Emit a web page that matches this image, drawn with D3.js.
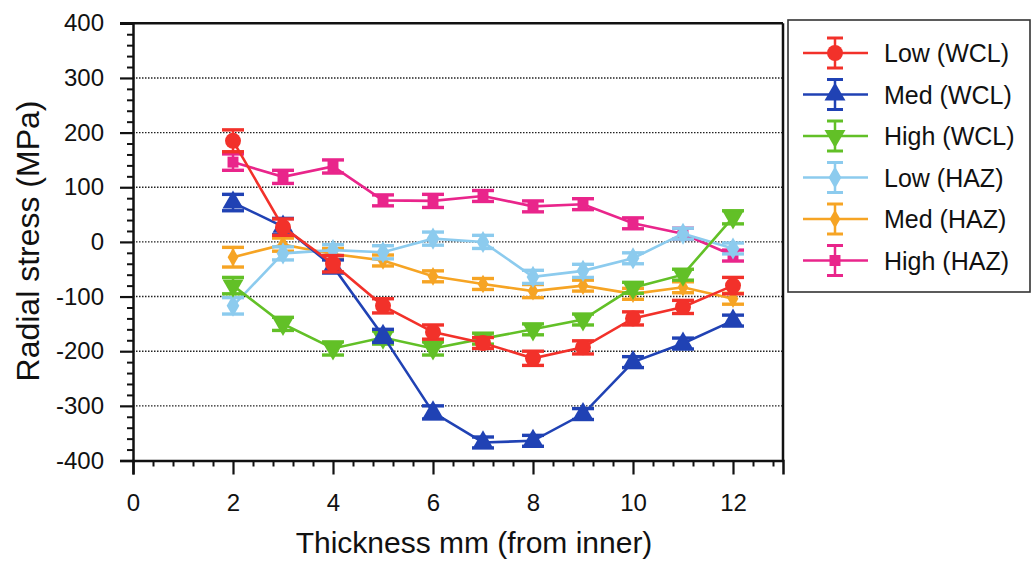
<!DOCTYPE html>
<html><head><meta charset="utf-8">
<script src="https://cdn.jsdelivr.net/npm/d3@7"></script>
<style>body{margin:0;background:#fff}svg{display:block}text{font-family:"Liberation Sans",Arial,sans-serif;fill:#111}</style>
</head><body>
<svg id="c" width="1033" height="562"></svg>
<script>
const thickness = [2,3,4,5,6,7,8,9,10,11,12];
const seriesNames = ["Low (WCL)","Med (WCL)","High (WCL)","Low (HAZ)","Med (HAZ)","High (HAZ)"];
const lowWCL  = [185, 27, -40, -117, -165, -185, -213, -193, -140, -119, -80];
const medWCL  = [72, 28, -45, -172, -312, -367, -364, -315, -220, -186, -144];
const highWCL = [-80, -150, -195, -175, -195, -177, -160, -142, -84, -60, 45];
const lowHAZ  = [-117, -21, -15, -19, 6, 0, -64, -53, -30, 15, -12];
const medHAZ  = [-28, -5, -22, -34, -63, -77, -90, -80, -95, -83, -104];
const highHAZ = [146, 119, 138, 76, 75, 84, 65, 69, 34, 15, -25];
const errLowWCL  = [20, 15, 15, 13, 13, 10, 13, 12, 12, 12, 15];
const errMedWCL  = [15, 15, 12, 12, 12, 10, 10, 10, 10, 10, 10];
const errHighWCL = [15, 12, 12, 12, 12, 10, 10, 10, 10, 10, 12];
const errLowHAZ  = [15, 12, 10, 12, 12, 12, 12, 12, 10, 10, 10];
const errMedHAZ  = [18, 12, 10, 10, 10, 10, 12, 10, 10, 10, 10];
const errHighHAZ = [15, 12, 12, 10, 12, 10, 10, 10, 10, 10, 10];
const xTicks = [0,2,4,6,8,10,12];
const yTicks = [-400,-300,-200,-100,0,100,200,300,400];
const gridValues = [-300,-200,-100,0,100,200,300];

const colors = ["#f2312a","#2042b4","#62c027","#8ccbee","#f6a424","#e9258b"];
const shapes = [
  {t:d3.symbolCircle, s:200, r:0},
  {t:d3.symbolTriangle, s:190, r:0},
  {t:d3.symbolTriangle, s:190, r:180},
  {t:d3.symbolDiamond, s:140, r:0},
  {t:d3.symbolDiamond, s:100, r:0},
  {t:d3.symbolSquare, s:120, r:0}
];
const values = [lowWCL, medWCL, highWCL, lowHAZ, medHAZ, highHAZ];
const errors = [errLowWCL, errMedWCL, errHighWCL, errLowHAZ, errMedHAZ, errHighHAZ];

const svg = d3.select("#c");
const x = d3.scaleLinear().domain([0,13]).range([133,783]);
const y = d3.scaleLinear().domain([-400,400]).range([460.5,23.3]);
const fmt = d => String(d);

// gridlines
svg.append("g").selectAll("line").data(gridValues).join("line")
  .attr("x1",x(0)).attr("x2",x(13)).attr("y1",d=>y(d)).attr("y2",d=>y(d))
  .attr("stroke","#222").attr("stroke-width",1.4).attr("stroke-dasharray","1.5,1.5");

// frame top & right
svg.append("line").attr("x1",x(0)-13).attr("x2",x(13)).attr("y1",y(400)).attr("y2",y(400)).attr("stroke","#111").attr("stroke-width",2.5);
svg.append("line").attr("x1",x(13)).attr("x2",x(13)).attr("y1",y(400)).attr("y2",y(-400)).attr("stroke","#111").attr("stroke-width",2.5);

// minor ticks
const xMinor = d3.range(0,12.81,0.4).filter(v=>Math.abs(v/2-Math.round(v/2))>0.01);
const yMinor = d3.range(-400,401,20).filter(v=>v%100!==0);
const gx = svg.append("g").attr("transform",`translate(0,${y(-400)})`);
gx.call(d3.axisBottom(x).tickValues(xMinor).tickSize(6).tickFormat(""));
gx.selectAll(".tick line").attr("stroke-width",2);
gx.select(".domain").remove();
const gx2 = svg.append("g").attr("transform",`translate(0,${y(-400)})`)
  .call(d3.axisBottom(x).tickValues(xTicks).tickSize(14).tickPadding(19).tickFormat(fmt));
gx2.selectAll(".tick line").attr("stroke-width",2.2);
gx2.select(".domain").attr("stroke-width",2.5);
gx2.selectAll("text").style("font-size","24px").attr("fill","#111");

const gy = svg.append("g").attr("transform",`translate(${x(0)},0)`);
gy.call(d3.axisLeft(y).tickValues(yMinor).tickSize(6).tickFormat(""));
gy.selectAll(".tick line").attr("stroke-width",2);
gy.select(".domain").remove();
const gy2 = svg.append("g").attr("transform",`translate(${x(0)},0)`)
  .call(d3.axisLeft(y).tickValues(yTicks).tickSize(13).tickPadding(16).tickFormat(fmt));
gy2.selectAll(".tick line").attr("stroke-width",2.2);
gy2.select(".domain").attr("stroke-width",2.5);
gy2.selectAll("text").style("font-size","24px").attr("fill","#111");
svg.selectAll(".domain").attr("stroke","#111");
svg.selectAll(".tick line").attr("stroke","#111");

// titles
svg.append("text").attr("x",474).attr("y",553).attr("text-anchor","middle").style("font-size","30px").text("Thickness mm (from inner)");
svg.append("text").attr("transform","translate(39,241) rotate(-90)").attr("text-anchor","middle").style("font-size","32px").text("Radial stress (MPa)");

// series, drawn bottom to top
const order = [5,4,3,2,1,0];
const line = d3.line().x(d=>x(d[0])).y(d=>y(d[1]));
const capW = 11;
order.forEach(i=>{
  const g = svg.append("g");
  const pts = thickness.map((t,k)=>[t, values[i][k], errors[i][k]]);
  g.append("path").datum(pts).attr("d",line).attr("fill","none").attr("stroke",colors[i]).attr("stroke-width",2.6);
  const eb = g.selectAll(".eb").data(pts).join("g");
  eb.append("line").attr("x1",d=>x(d[0])).attr("x2",d=>x(d[0])).attr("y1",d=>y(d[1]+d[2])).attr("y2",d=>y(d[1]-d[2])).attr("stroke",colors[i]).attr("stroke-width",2.5);
  eb.append("line").attr("x1",d=>x(d[0])-capW).attr("x2",d=>x(d[0])+capW).attr("y1",d=>y(d[1]+d[2])).attr("y2",d=>y(d[1]+d[2])).attr("stroke",colors[i]).attr("stroke-width",3.4);
  eb.append("line").attr("x1",d=>x(d[0])-capW).attr("x2",d=>x(d[0])+capW).attr("y1",d=>y(d[1]-d[2])).attr("y2",d=>y(d[1]-d[2])).attr("stroke",colors[i]).attr("stroke-width",3.4);
  const sym = d3.symbol().type(shapes[i].t).size(shapes[i].s);
  g.selectAll(".m").data(pts).join("path")
    .attr("transform",d=>`translate(${x(d[0])},${y(d[1])}) rotate(${shapes[i].r})`)
    .attr("d",sym).attr("fill",colors[i]);
});

// legend
const lg = svg.append("g");
lg.append("rect").attr("x",788).attr("y",20).attr("width",242).attr("height",272).attr("fill","#fff").attr("stroke","#333").attr("stroke-width",1.6);
seriesNames.forEach((name,i)=>{
  const cy = 53 + i*41.5;
  lg.append("line").attr("x1",803).attr("x2",868).attr("y1",cy).attr("y2",cy).attr("stroke",colors[i]).attr("stroke-width",2.5);
  lg.append("line").attr("x1",835).attr("x2",835).attr("y1",cy-15).attr("y2",cy+15).attr("stroke",colors[i]).attr("stroke-width",2.5);
  [cy-15,cy+15].forEach(yy=>lg.append("line").attr("x1",827).attr("x2",843).attr("y1",yy).attr("y2",yy).attr("stroke",colors[i]).attr("stroke-width",3));
  lg.append("path").attr("transform",`translate(835,${cy}) rotate(${shapes[i].r})`)
    .attr("d",d3.symbol().type(shapes[i].t).size(shapes[i].s)()).attr("fill",colors[i]);
  lg.append("text").attr("x",884).attr("y",cy+9).style("font-size","25px").text(name);
});
</script>
</body></html>
